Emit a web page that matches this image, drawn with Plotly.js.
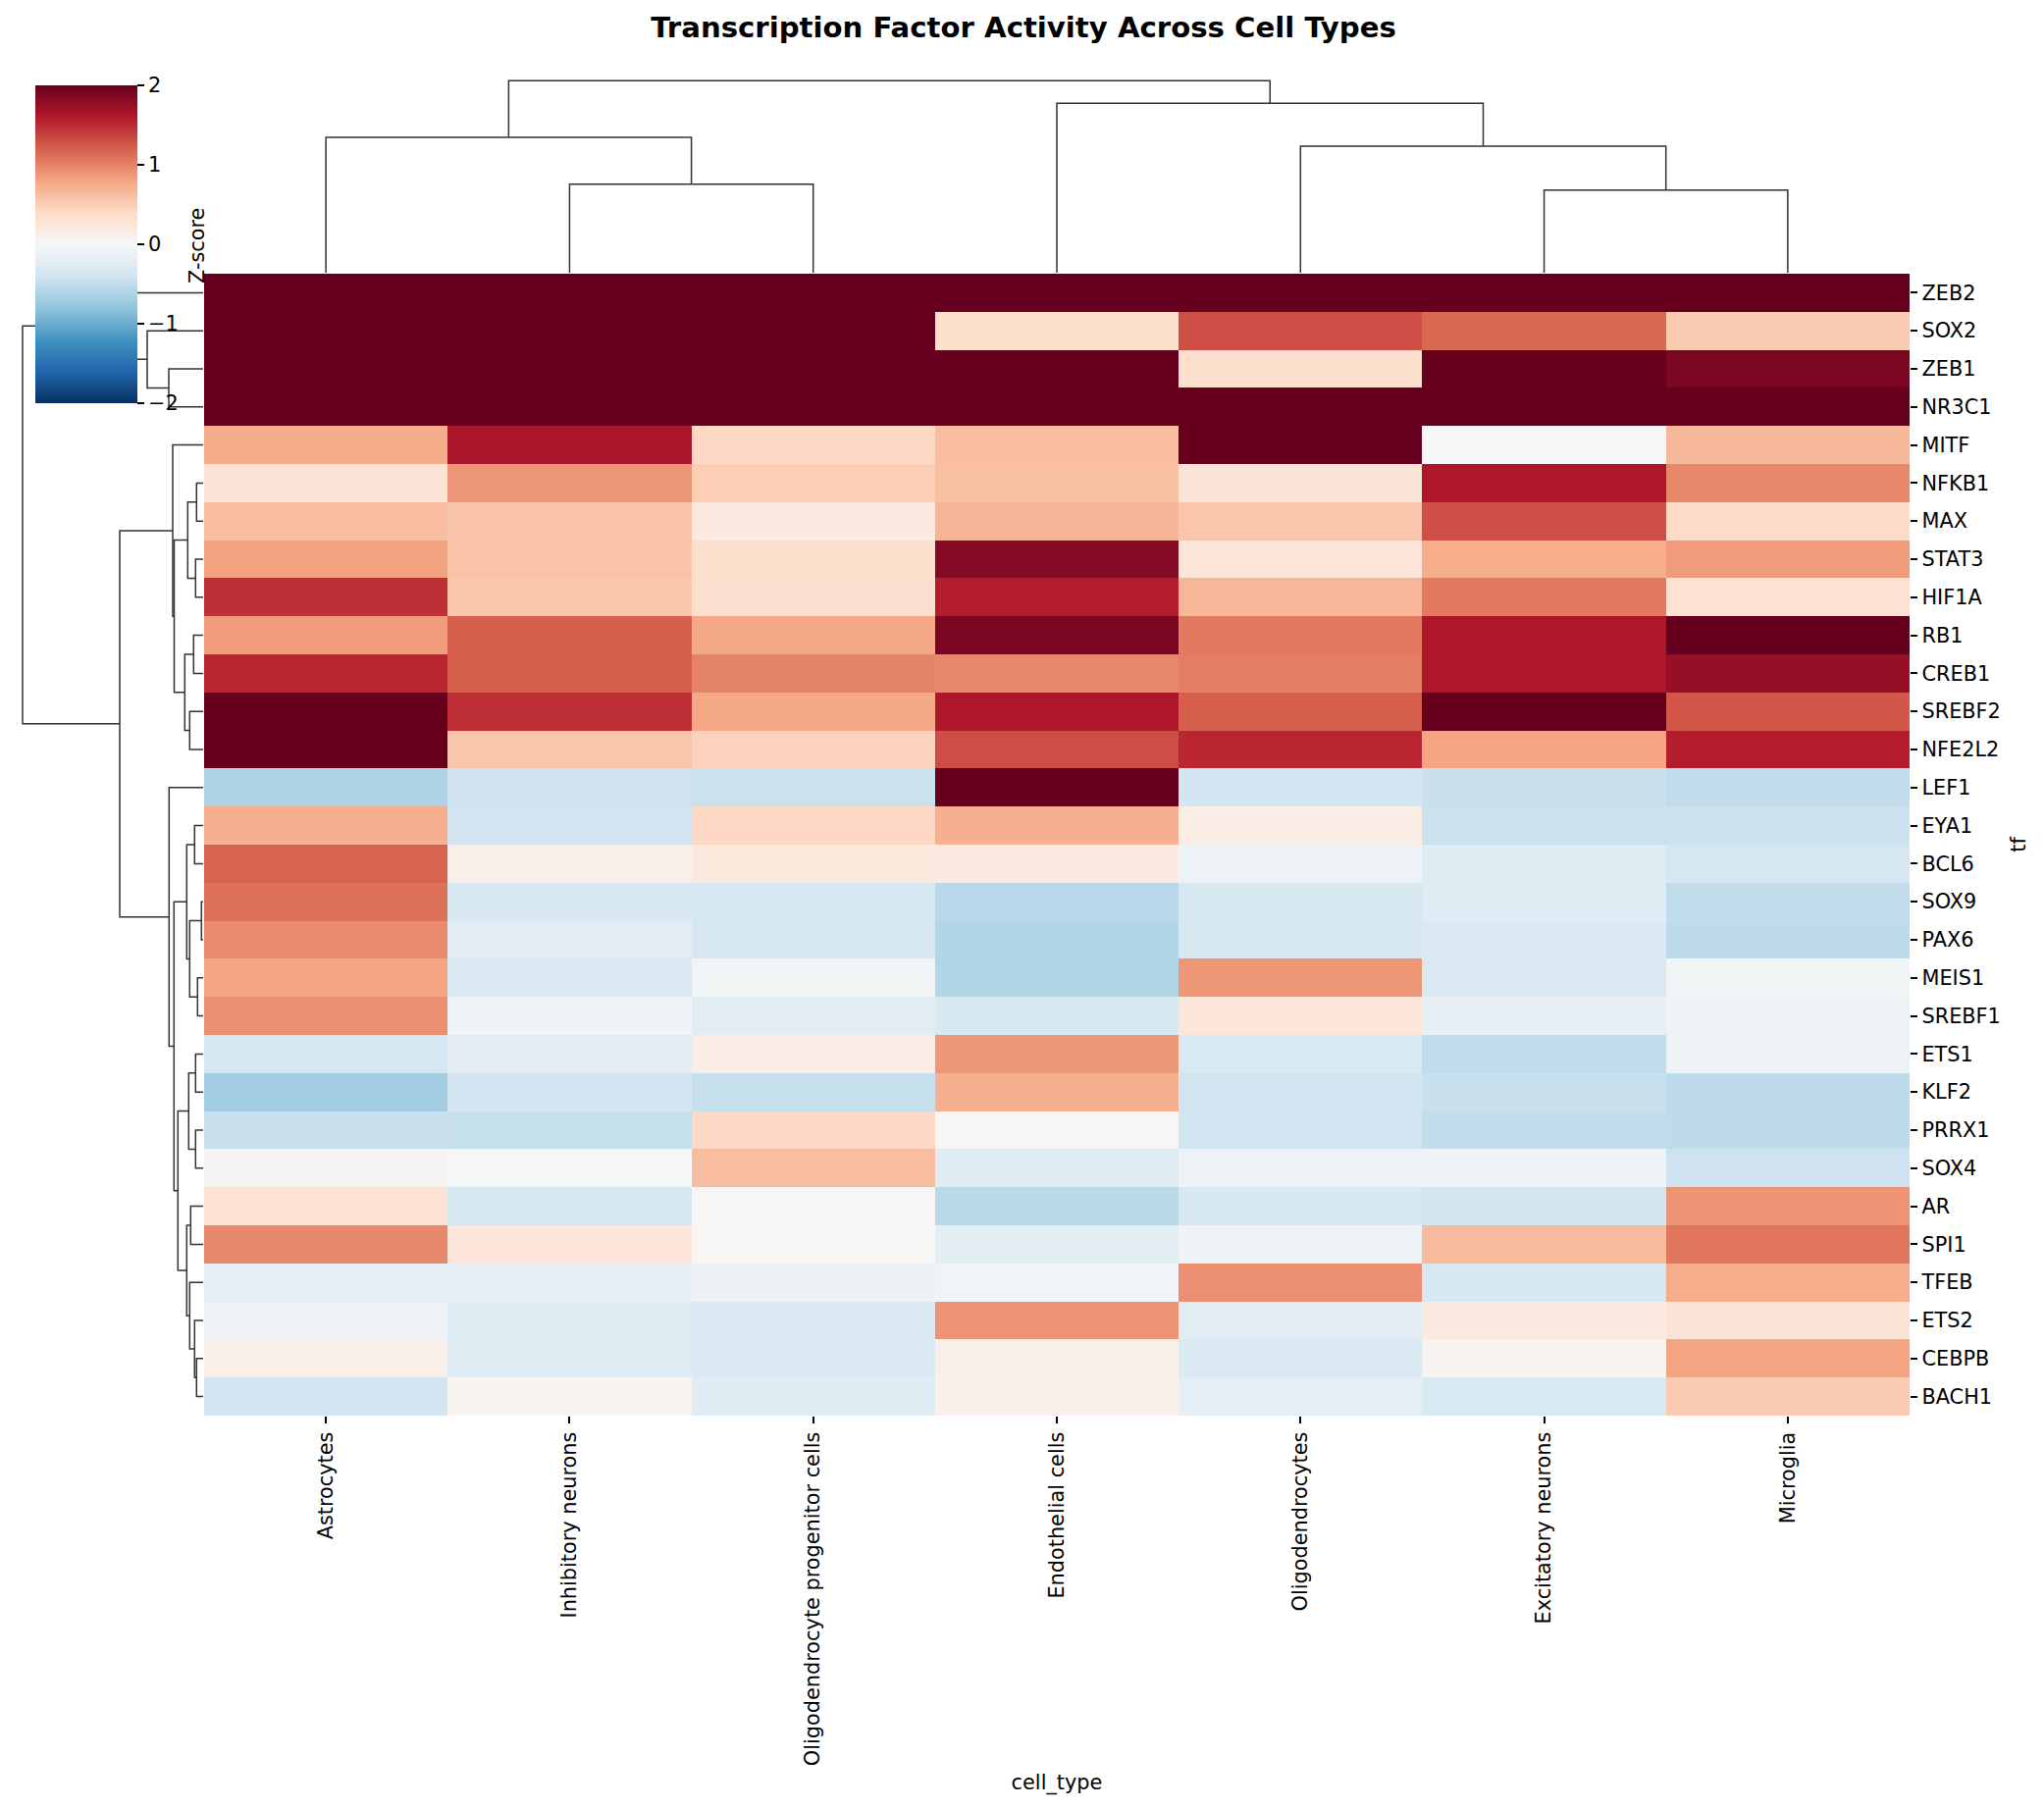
<!DOCTYPE html>
<html><head><meta charset="utf-8">
<script src="https://cdn.plot.ly/plotly-3.0.1.min.js"></script>
<style>html,body{margin:0;padding:0;background:#fff}</style></head>
<body><div id="chart" style="width:2083px;height:1843px"></div>
<script>
const cellTypes=["Astrocytes","Inhibitory neurons","Oligodendrocyte progenitor cells","Endothelial cells","Oligodendrocytes","Excitatory neurons","Microglia"];
const tfs=["ZEB2","SOX2","ZEB1","NR3C1","MITF","NFKB1","MAX","STAT3","HIF1A","RB1","CREB1","SREBF2","NFE2L2","LEF1","EYA1","BCL6","SOX9","PAX6","MEIS1","SREBF1","ETS1","KLF2","PRRX1","SOX4","AR","SPI1","TFEB","ETS2","CEBPB","BACH1"];
const zScores=[
[2.5,2.5,2.5,2.5,2.5,2.5,2.5],
[2.3,2.3,2.3,0.35,1.3,1.15,0.52],
[2.3,2.3,2.3,2.1,0.35,2.1,1.9],
[2.3,2.3,2.3,2.2,2.2,2.2,2.2],
[0.75,1.65,0.42,0.62,2.1,-0.02,0.66],
[0.28,0.88,0.5,0.6,0.28,1.62,0.97],
[0.62,0.58,0.2,0.68,0.56,1.3,0.38],
[0.82,0.58,0.36,1.85,0.25,0.74,0.85],
[1.47,0.55,0.34,1.57,0.66,1.05,0.3],
[0.85,1.2,0.77,1.9,1.05,1.62,2.1],
[1.52,1.2,1.0,0.97,1.02,1.62,1.75],
[2.2,1.47,0.77,1.62,1.2,2.0,1.25],
[2.2,0.56,0.47,1.3,1.52,0.8,1.57],
[-0.62,-0.41,-0.44,2.1,-0.37,-0.45,-0.5],
[0.72,-0.39,0.42,0.72,0.15,-0.44,-0.43],
[1.18,0.12,0.22,0.18,-0.12,-0.24,-0.35],
[1.1,-0.34,-0.35,-0.56,-0.33,-0.25,-0.5],
[0.95,-0.23,-0.35,-0.6,-0.33,-0.29,-0.52],
[0.8,-0.3,-0.05,-0.6,0.88,-0.3,-0.05],
[0.92,-0.1,-0.23,-0.34,0.25,-0.17,-0.1],
[-0.35,-0.23,0.15,0.88,-0.32,-0.5,-0.1],
[-0.7,-0.39,-0.47,0.72,-0.4,-0.45,-0.52],
[-0.46,-0.47,0.42,0.02,-0.4,-0.5,-0.52],
[0.03,-0.02,0.62,-0.24,-0.12,-0.1,-0.42],
[0.3,-0.35,0.02,-0.55,-0.34,-0.38,0.9],
[0.97,0.25,0.02,-0.21,-0.08,0.64,1.07],
[-0.17,-0.17,-0.13,-0.07,0.92,-0.34,0.74],
[-0.08,-0.26,-0.29,0.9,-0.23,0.2,0.27],
[0.12,-0.25,-0.31,0.1,-0.29,0.06,0.8],
[-0.39,0.05,-0.24,0.1,-0.19,-0.32,0.52]];
const colorbarTicks=[-2,-1,0,1,2];

// Column dendrogram: [left, right, height]; integers are leaves, "nK" refers to merge K
const colMerges=[[1,2,90.7],[0,"n0",138.7],[5,6,84.7],[4,"n2",129.7],[3,"n3",173.7],["n1","n4",196.7]];
// Row dendrogram
const rowMerges=[
[2,3,35],[1,"n0",57],[0,"n1",108],
[5,6,6.7],[7,8,7.7],["n3","n4",15.7],[9,10,9.7],[11,12,13.7],["n6","n7",18.7],["n5","n8",29.5],[4,"n9",31],
[16,17,1.7],[18,19,5.7],["n11","n12",13.7],[14,15,8.7],["n14","n13",16.7],
[20,21,7.7],[22,23,7.7],["n16","n17",14.7],
[24,25,12.7],[28,29,6.7],[27,"n20",8.7],[26,"n21",13.7],["n19","n22",16.7],
["n18","n23",25.7],["n15","n24",29.7],[13,"n25",34.7],
["n10","n26",85],["n2","n27",184]];

function dendroSegments(merges){
  const nodes=[], a=[], b=[];
  const get=k=>typeof k==="number"?{p:k,h:0}:nodes[+k.slice(1)];
  merges.forEach(m=>{
    const l=get(m[0]), r=get(m[1]), h=m[2];
    a.push(l.p,l.p,r.p,r.p,null);
    b.push(l.h,h,h,r.h,null);
    nodes.push({p:(l.p+r.p)/2,h:h});
  });
  return {pos:a,height:b};
}
const W=2083,H=1843;
const px=(a,b)=>[a/W,b/W], py=(top,bot)=>[1-bot/H,1-top/H];
const fontFam='"DejaVu Sans", sans-serif';
const FS=20.83;
const colorscale=[[0,"#053061"],[0.1,"#2166ac"],[0.2,"#4393c3"],[0.3,"#92c5de"],[0.4,"#d1e5f0"],[0.5,"#f7f7f7"],[0.6,"#fddbc7"],[0.7,"#f4a582"],[0.8,"#d6604d"],[0.9,"#b2182b"],[1,"#67001f"]];
const cd=dendroSegments(colMerges), rd=dendroSegments(rowMerges);
const dline={color:"#333333",width:1.5};
const data=[
 {type:"scatter",mode:"lines",x:cd.pos,y:cd.height,xaxis:"x2",yaxis:"y2",line:dline,hoverinfo:"skip",showlegend:false,connectgaps:false},
 {type:"scatter",mode:"lines",x:rd.height,y:rd.pos,xaxis:"x3",yaxis:"y3",line:dline,hoverinfo:"skip",showlegend:false,connectgaps:false},
 {type:"heatmap",x:cellTypes,y:tfs,z:zScores,zmin:-2,zmax:2,colorscale:colorscale,xgap:0,ygap:0,
  colorbar:{x:36/W,xanchor:"left",xpad:0,y:1-86.5/H,yanchor:"top",ypad:0,len:324/H,lenmode:"fraction",thickness:104,thicknessmode:"pixels",
    outlinewidth:0,tickmode:"array",tickvals:colorbarTicks,ticks:"outside",ticklen:7.3,tickwidth:1.67,tickcolor:"#000",
    tickfont:{family:fontFam,size:FS,color:"#000"}}}
];
const layout={
 width:W,height:H,margin:{l:0,r:0,t:0,b:0},paper_bgcolor:"#fff",plot_bgcolor:"#fff",showlegend:false,
 title:{text:"<b>Transcription Factor Activity Across Cell Types</b>",x:1043/W,xanchor:"center",xref:"paper",y:1-28/H,yanchor:"middle",yref:"paper",font:{family:fontFam,size:29.17,color:"#000"}},
 annotations:[{text:"Z-score",xref:"paper",yref:"paper",x:201/W,y:1-251/H,xanchor:"center",yanchor:"middle",textangle:-90,showarrow:false,font:{family:fontFam,size:FS,color:"#000"}}],
 xaxis:{domain:px(208,1946),type:"category",tickangle:-90,ticks:"outside",ticklen:7.3,tickwidth:1.67,tickcolor:"#000",showgrid:false,zeroline:false,showline:false,
   tickfont:{family:fontFam,size:FS,color:"#000"},title:{text:"cell_type",font:{family:fontFam,size:FS,color:"#000"},standoff:10},anchor:"y"},
 yaxis:{domain:py(279,1443),type:"category",autorange:"reversed",side:"right",ticks:"outside",ticklen:7.3,tickwidth:1.67,tickcolor:"#000",showgrid:false,zeroline:false,showline:false,
   tickfont:{family:fontFam,size:FS,color:"#000"},title:{text:"tf",font:{family:fontFam,size:FS,color:"#000"},standoff:11},anchor:"x"},
 xaxis2:{domain:px(208,1946),range:[-0.5,6.5],visible:false,anchor:"y2",fixedrange:true},
 yaxis2:{domain:py(72,278),range:[0,207],visible:false,anchor:"x2",fixedrange:true},
 xaxis3:{domain:px(0,207),range:[207,0],visible:false,anchor:"y3",fixedrange:true},
 yaxis3:{domain:py(279,1443),range:[29.5,-0.5],visible:false,anchor:"x3",fixedrange:true}
};
Plotly.newPlot("chart",data,layout,{displayModeBar:false});
</script></body></html>
